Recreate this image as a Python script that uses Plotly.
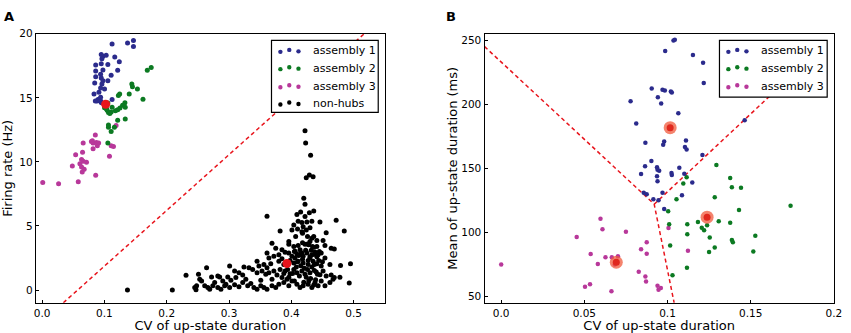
import plotly.graph_objects as go

# ---------------- Panel A data ----------------
a1_x = [0.1123, 0.1371, 0.1466, 0.1466, 0.0949, 0.0976, 0.0960, 0.1028, 0.1166, 0.0860,
        0.0949, 0.1055, 0.1239, 0.0860, 0.0976, 0.0939, 0.1108, 0.1213, 0.0860, 0.0949,
        0.0976, 0.0960, 0.0844, 0.0939, 0.0833, 0.0912, 0.1002, 0.1123, 0.0897, 0.0881,
        0.0912, 0.0939, 0.0949, 0.0923, 0.0965, 0.0854, 0.0939, 0.1055]
a1_y = [19.20, 19.28, 19.48, 19.00, 18.38, 18.25, 18.05, 18.33, 18.18, 17.56,
        17.66, 17.61, 17.82, 17.10, 17.18, 16.85, 16.77, 17.15, 16.64, 16.54,
        16.33, 16.08, 16.15, 15.77, 15.31, 15.44, 15.70, 14.87, 14.87, 14.75,
        14.80, 14.75, 14.64, 14.90, 14.59, 14.75, 15.05, 16.33]

a2_x = [0.1688, 0.1751, 0.1440, 0.1450, 0.1530, 0.1398, 0.1619, 0.1245, 0.1224, 0.1329,
        0.1292, 0.1334, 0.1250, 0.1213, 0.1176, 0.1123, 0.1108, 0.1065, 0.1044, 0.1002,
        0.1028, 0.1055, 0.1334, 0.1213, 0.1065, 0.1065, 0.1160, 0.1108, 0.1055, 0.1087,
        0.1034]
a2_y = [17.15, 17.36, 16.08, 15.87, 15.69, 15.31, 14.90, 15.31, 15.18, 14.62,
        14.42, 14.26, 14.21, 14.08, 14.00, 14.26, 13.90, 13.85, 14.03, 14.23,
        14.46, 14.59, 13.34, 13.26, 12.88, 12.70, 12.70, 12.37, 11.47, 13.77,
        14.13]

a3_x = [0.0010, 0.0264, 0.0580, 0.0860, 0.0485, 0.0633, 0.0675, 0.0644, 0.0607, 0.0659,
        0.0712, 0.0633, 0.0538, 0.0649, 0.1081, 0.0818, 0.0886, 0.0870, 0.0791, 0.0818,
        0.0907, 0.0659, 0.0854, 0.1108, 0.1145, 0.1187, 0.0807]
a3_y = [8.40, 8.30, 8.45, 8.96, 9.68, 9.60, 9.42, 9.22, 9.86, 10.06,
        9.98, 10.19, 10.55, 10.75, 10.45, 11.03, 11.26, 11.52, 11.60, 11.47,
        11.47, 11.47, 12.11, 11.26, 11.21, 12.85, 11.65]

nh_x = [0.422, 0.423, 0.431, 0.429, 0.435, 0.424, 0.420, 0.422, 0.361, 0.472,
        0.485, 0.231, 0.495, 0.493, 0.479, 0.478, 0.137, 0.209, 0.247,
        0.409, 0.415, 0.422, 0.429, 0.436, 0.411, 0.417, 0.425, 0.433, 0.446,
        0.404, 0.410, 0.419, 0.424, 0.430, 0.417, 0.382, 0.401, 0.456,
        0.407, 0.418, 0.426, 0.433, 0.436, 0.441, 0.451, 0.396, 0.430,
        0.369, 0.396, 0.404, 0.411, 0.422, 0.428, 0.436, 0.441, 0.454, 0.464,
        0.469, 0.375, 0.385, 0.390, 0.406, 0.414,
        0.361, 0.380, 0.396, 0.401, 0.409, 0.417, 0.425, 0.433, 0.438, 0.443,
        0.448, 0.454, 0.364, 0.372, 0.385, 0.406, 0.419, 0.430,
        0.345, 0.356, 0.367, 0.380, 0.388, 0.404, 0.411, 0.419, 0.427, 0.435,
        0.441, 0.448, 0.462, 0.301, 0.324, 0.332, 0.264, 0.348, 0.361,
        0.309, 0.316, 0.322, 0.338, 0.345, 0.353, 0.359, 0.364, 0.372, 0.377,
        0.382, 0.390, 0.398, 0.404, 0.409, 0.417, 0.422, 0.430, 0.437, 0.442,
        0.451, 0.456, 0.464, 0.469, 0.251, 0.272, 0.282, 0.285, 0.290, 0.298,
        0.253, 0.277, 0.295, 0.303, 0.311, 0.327,
        0.245, 0.248, 0.256, 0.261, 0.266, 0.269, 0.274, 0.282, 0.287, 0.293,
        0.301, 0.309, 0.316, 0.322, 0.330, 0.335, 0.340, 0.345, 0.351, 0.356,
        0.361, 0.369, 0.375, 0.380, 0.388, 0.396, 0.401, 0.409, 0.414, 0.419,
        0.427, 0.433, 0.438, 0.443, 0.448, 0.454, 0.462, 0.467, 0.385, 0.393,
        0.369, 0.351,
        0.405, 0.412, 0.418, 0.423, 0.427, 0.432, 0.437, 0.441, 0.415, 0.421,
        0.426, 0.433, 0.440, 0.408, 0.398, 0.402, 0.413, 0.424, 0.431, 0.439,
        0.446, 0.450, 0.445, 0.418, 0.426, 0.434, 0.394, 0.388, 0.396, 0.420,
        0.428, 0.436, 0.405, 0.410, 0.416, 0.430, 0.437, 0.444]
nh_y = [12.44, 11.47, 10.52, 8.98, 8.85, 8.77, 7.17, 6.69, 5.76, 5.45,
        4.60, 1.15, 2.05, 0.54, 1.92, 1.00, 0.00, 0.00, 0.02,
        5.89, 6.09, 5.73, 6.04, 6.17, 5.37, 5.27, 5.32, 5.37, 5.32,
        5.07, 4.76, 4.94, 4.68, 4.86, 4.55, 4.61, 4.68, 4.48,
        4.17, 4.43, 4.17, 4.04, 4.17, 3.86, 3.86, 3.79, 3.79,
        3.66, 3.58, 3.40, 3.48, 3.58, 3.53, 3.33, 3.40, 3.48, 3.27,
        3.20, 3.27, 3.15, 2.94, 3.02, 3.15,
        2.89, 2.76, 2.89, 2.63, 2.81, 2.89, 2.89, 2.76, 2.97, 2.76,
        2.89, 2.51, 2.51, 2.63, 2.45, 2.51, 2.63, 2.51,
        2.25, 1.99, 2.05, 2.25, 1.99, 2.12, 2.25, 2.12, 1.99, 2.25,
        2.05, 1.87, 1.99, 1.87, 1.79, 1.74, 1.74, 1.87, 1.74,
        1.48, 1.35, 1.17, 1.61, 1.35, 1.48, 1.23, 1.35, 1.48, 1.17,
        1.61, 1.48, 1.28, 1.61, 1.35, 1.48, 1.23, 1.35, 1.53, 1.23,
        1.48, 1.10, 1.17, 0.97, 1.23, 1.02, 1.10, 1.02, 0.71, 1.02,
        0.84, 0.59, 0.46, 0.77, 0.97, 0.84,
        0.20, 0.33, 0.71, 0.33, 0.20, 0.07, 0.33, 0.20, 0.07, 0.33,
        0.20, 0.41, 0.25, 0.59, 0.33, 0.51, 0.20, 0.07, 0.33, 0.20,
        0.07, 0.33, 0.20, 0.46, 0.59, 0.33, 0.71, 0.46, 0.20, 0.33,
        0.46, 0.20, 0.59, 0.33, 0.71, 0.33, 0.59, 0.84, 0.97, 0.84,
        0.84, 0.77,
        3.00, 2.70, 2.40, 3.10, 2.30, 3.10, 2.00, 2.60, 1.90, 1.70,
        1.60, 1.80, 1.40, 1.80, 2.30, 1.30, 1.10, 1.00, 0.90, 0.80,
        1.20, 2.20, 3.00, 3.70, 3.60, 3.40, 1.60, 1.30, 1.00, 0.60,
        0.70, 0.40, 0.70, 2.20, 2.90, 2.60, 2.80, 2.30]

centers_a_x = [0.102, 0.393]
centers_a_y = [14.5, 2.07]

boundary_a_x = [0.034, 0.517]
boundary_a_y = [-1.0, 20.0]

# ---------------- Panel B data ----------------
b1_x = [0.1036, 0.1044, 0.0986, 0.1153, 0.1214, 0.1218, 0.0905, 0.0970, 0.0984, 0.1020,
        0.1026, 0.0942, 0.0962, 0.0778, 0.1065, 0.0812, 0.1464, 0.0867, 0.0980, 0.0974,
        0.1111, 0.1105, 0.1115, 0.1210, 0.0903, 0.0865, 0.0841, 0.0937, 0.0940, 0.0950,
        0.1071, 0.1024, 0.1026, 0.1101, 0.1149, 0.0937, 0.0940, 0.0857, 0.0875, 0.0970,
        0.1087, 0.0915, 0.0946, 0.0980]
b1_y = [249.7, 250.3, 241.6, 238.5, 232.4, 216.6, 212.3, 211.3, 210.8, 210.0,
        209.2, 205.4, 200.6, 202.3, 192.9, 185.0, 187.6, 170.0, 171.0, 168.4,
        171.8, 166.7, 164.6, 160.3, 155.7, 151.6, 145.5, 150.9, 148.8, 148.1,
        150.4, 146.3, 144.8, 145.8, 138.9, 143.9, 139.9, 131.0, 129.7, 131.0,
        129.0, 125.9, 125.1, 118.2]

b2_x = [0.1294, 0.1377, 0.1115, 0.1095, 0.1387, 0.1442, 0.1054, 0.1284, 0.1430, 0.1004,
        0.1740, 0.1183, 0.1308, 0.1377, 0.1010, 0.1119, 0.1206, 0.1220, 0.1238, 0.1119,
        0.1254, 0.1528, 0.1387, 0.1393, 0.1016, 0.1284, 0.1250, 0.1516, 0.1117, 0.1030]
b2_y = [152.6, 142.5, 143.0, 138.1, 135.3, 134.8, 125.9, 127.4, 117.5, 116.5,
        120.8, 108.1, 108.6, 107.5, 106.3, 106.3, 103.7, 101.7, 105.5, 98.6,
        96.1, 97.4, 94.1, 92.3, 89.7, 88.2, 84.6, 85.1, 72.4, 66.5]

b3_x = [0.0597, 0.0609, 0.0750, 0.0454, 0.0875, 0.1006, 0.0841, 0.0875, 0.1123, 0.0538,
        0.0627, 0.0665, 0.0702, 0.0683, 0.0581, 0.0000, 0.0827, 0.0867, 0.0871, 0.0534,
        0.0504, 0.0940, 0.0960, 0.0946, 0.0663]
b3_y = [110.6, 102.4, 100.4, 96.3, 92.3, 103.5, 86.9, 83.3, 85.6, 83.1,
        80.5, 80.5, 81.3, 74.9, 75.4, 74.9, 69.3, 65.5, 61.6, 59.6,
        57.6, 58.4, 56.6, 55.3, 54.0]

centers_b_x = [0.1016, 0.1238, 0.0692]
centers_b_y = [181.7, 111.9, 76.7]

boundary_b_x = [-0.01, 0.092, 0.104]
boundary_b_y = [245.0, 122.0, 45.0]
boundary_b2_x = [0.092, 0.190]
boundary_b2_y = [122.0, 241.0]

legend_a = ["assembly 1", "assembly 2", "assembly 3", "non-hubs"]
legend_b = ["assembly 1", "assembly 2", "assembly 3"]

# ---------------- styling ----------------
C1 = "#2b2b8c"
C2 = "#0c7a22"
C3 = "#b8389a"
CK = "#000000"
RED = "#e8141c"
FONT = "DejaVu Sans"
MS = 5

W, H = 851, 333
domA = [34.3 / W, 387.3 / W]
domB = [488.3 / W, 841.7 / W]
domY = [1 - 302.3 / H, 1 - 28.3 / H]

fig = go.Figure()

def sc(x, y, color, xa, ya, size=MS, name=None):
    fig.add_trace(go.Scatter(x=x, y=y, mode="markers", xaxis=xa, yaxis=ya,
                             marker=dict(color=color, size=size, line=dict(width=0)),
                             showlegend=False, hoverinfo="skip", name=name))

# Panel A
fig.add_trace(go.Scatter(x=boundary_a_x, y=boundary_a_y, mode="lines", xaxis="x", yaxis="y",
                         line=dict(color=RED, width=1.5, dash="4px,3px"),
                         showlegend=False, hoverinfo="skip"))
sc(nh_x, nh_y, CK, "x", "y")
sc(a3_x, a3_y, C3, "x", "y")
sc(a2_x, a2_y, C2, "x", "y")
sc(a1_x, a1_y, C1, "x", "y")
sc(centers_a_x, centers_a_y, RED, "x", "y", size=9)

# Panel B
fig.add_trace(go.Scatter(x=boundary_b_x, y=boundary_b_y, mode="lines", xaxis="x2", yaxis="y2",
                         line=dict(color=RED, width=1.5, dash="4px,3px"),
                         showlegend=False, hoverinfo="skip"))
fig.add_trace(go.Scatter(x=boundary_b2_x, y=boundary_b2_y, mode="lines", xaxis="x2", yaxis="y2",
                         line=dict(color=RED, width=1.5, dash="4px,3px"),
                         showlegend=False, hoverinfo="skip"))
sc(b3_x, b3_y, C3, "x2", "y2", size=4.5)
sc(b2_x, b2_y, C2, "x2", "y2", size=4.5)
sc(b1_x, b1_y, C1, "x2", "y2", size=4.5)
sc(centers_b_x, centers_b_y, "rgba(240,90,60,0.75)", "x2", "y2", size=13)
sc(centers_b_x, centers_b_y, "#e0281e", "x2", "y2", size=7)

axis_common = dict(showgrid=False, zeroline=False, showline=True, linecolor="black",
                   linewidth=1.3, mirror=True, ticks="inside", ticklen=3, tickwidth=1,
                   tickcolor="black", tickfont=dict(family=FONT, size=10.5, color="black"))

fig.update_layout(
    width=W, height=H, margin=dict(l=0, r=0, t=0, b=0),
    paper_bgcolor="white", plot_bgcolor="white", showlegend=False,
    font=dict(family=FONT, color="black"),
    xaxis=dict(domain=domA, range=[-0.01, 0.55], tickvals=[0, 0.1, 0.2, 0.3, 0.4, 0.5],
               ticktext=["0.0", "0.1", "0.2", "0.3", "0.4", "0.5"],
               title=dict(text="CV of up-state duration", font=dict(family=FONT, size=13), standoff=2),
               anchor="y", **axis_common),
    yaxis=dict(domain=domY, range=[-1, 20], tickvals=[0, 5, 10, 15, 20],
               title=dict(text="Firing rate (Hz)", font=dict(family=FONT, size=13), standoff=5),
               anchor="x", **axis_common),
    xaxis2=dict(domain=domB, range=[-0.01, 0.2], tickvals=[0, 0.05, 0.1, 0.15, 0.2],
                ticktext=["0.0", "0.05", "0.1", "0.15", "0.2"],
                title=dict(text="CV of up-state duration", font=dict(family=FONT, size=13), standoff=2),
                anchor="y2", **axis_common),
    yaxis2=dict(domain=domY, range=[45, 255], tickvals=[50, 100, 150, 200, 250],
                title=dict(text="Mean of up-state duration (ms)", font=dict(family=FONT, size=13), standoff=0),
                anchor="x2", **axis_common),
)

# Panel labels
fig.add_annotation(text="<b>A</b>", xref="paper", yref="paper", x=0.5 / W, y=1 - 1 / H,
                   xanchor="left", yanchor="top", showarrow=False,
                   font=dict(family=FONT, size=13, color="black"))
fig.add_annotation(text="<b>B</b>", xref="paper", yref="paper", x=447 / W, y=1 - 1 / H,
                   xanchor="left", yanchor="top", showarrow=False,
                   font=dict(family=FONT, size=13, color="black"))

# Manual legends (matplotlib style, three scatter points per entry)
def legend(box, dot_x, text_x, rows, labels, colors):
    x0, y0, x1, y1 = box
    fig.add_shape(type="rect", xref="paper", yref="paper",
                  x0=x0 / W, x1=x1 / W, y0=1 - y1 / H, y1=1 - y0 / H,
                  fillcolor="white", line=dict(color="black", width=1.2), layer="above")
    offs = [1.0, -1.0, 0.5]
    for lab, col, ry in zip(labels, colors, rows):
        for dx, oy in zip(dot_x, offs):
            fig.add_shape(type="circle", xref="paper", yref="paper",
                          xsizemode="pixel", ysizemode="pixel",
                          xanchor=dx / W, yanchor=1 - (ry + oy) / H,
                          x0=-2.2, x1=2.2, y0=-2.2, y1=2.2,
                          fillcolor=col, line=dict(width=0), layer="above")
        fig.add_annotation(text=lab, xref="paper", yref="paper", x=text_x / W, y=1 - ry / H,
                           xanchor="left", yanchor="middle", showarrow=False,
                           font=dict(family=FONT, size=11, color="black"))

legend((272.7, 35.0, 380.7, 108.3), [281.7, 290.7, 300.0], 312.5,
       [45.7, 63.3, 81.7, 99.3], legend_a, [C1, C2, C3, CK])
legend((726.0, 35.0, 835.0, 92.7), [735.0, 744.0, 753.3], 766.5,
       [45.7, 63.3, 81.7], legend_b, [C1, C2, C3])

fig.write_html("out.html", config={"displayModeBar": False},
               post_script="document.body.style.margin='0';document.body.style.padding='0';")
